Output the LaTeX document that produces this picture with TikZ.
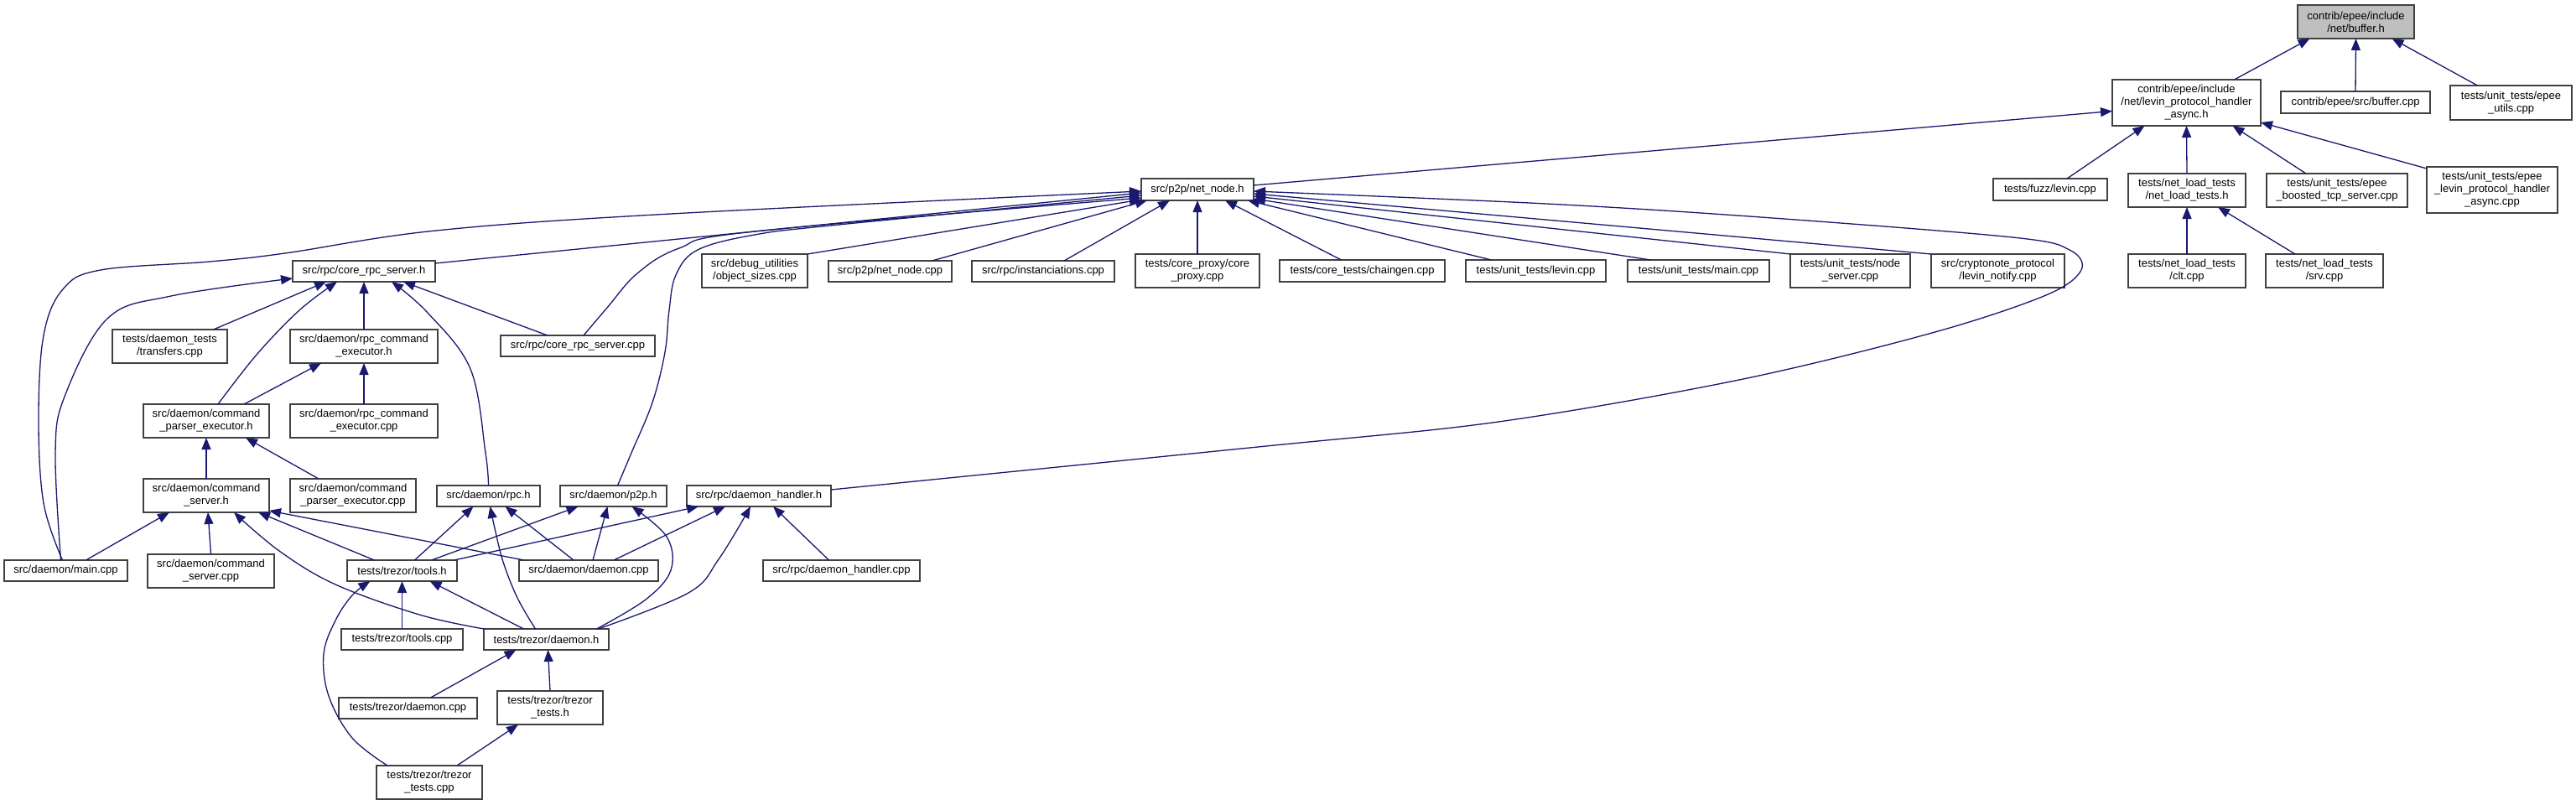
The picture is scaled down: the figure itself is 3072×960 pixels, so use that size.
\documentclass[tikz,border=0pt]{standalone}
\usepackage{fontspec}
\setmainfont{Liberation Sans}
\usetikzlibrary{arrows.meta}
\definecolor{edgecol}{HTML}{191970}
\definecolor{boxline}{HTML}{404040}
\definecolor{boxgray}{HTML}{BFBFBF}
\tikzset{
  box/.style={draw=boxline, line width=1.3pt, fill=white, inner sep=0pt, outer sep=0pt,
    align=center, font=\fontsize{13}{15}\selectfont},
  dep/.style={draw=edgecol, line width=1.3pt, -{Triangle[length=14pt,width=11pt]}},
}
\newcommand{\bx}[7][]{\node[box,#1, minimum width={(#4-#2)*1pt}, minimum height={(#5-#3)*1pt}] (#6) at ({(#2+#4)/2},{(#3+#5)/2}) {#7};}
\begin{document}
\begin{tikzpicture}[x=1pt,y=-1pt]
\fill[white] (0,0) rectangle (3072,960);
\useasboundingbox (0,0) rectangle (3072,960);
% row 0-1
\bx[fill=boxgray]{2740}{6}{2879}{46}{buf}{contrib/epee/include\\/net/buffer.h}
\bx{2519}{95}{2696}{150}{lph}{contrib/epee/include\\/net/levin\_protocol\_handler\\\_async.h}
\bx{2720}{109}{2898}{135}{bcpp}{contrib/epee/src/buffer.cpp}
\bx{2922}{102}{3067}{143}{eut}{tests/unit\_tests/epee\\\_utils.cpp}
% row 2
\bx{1361}{213}{1495}{239}{nn}{src/p2p/net\_node.h}
\bx{2377}{213}{2513}{239}{fuzz}{tests/fuzz/levin.cpp}
\bx{2538}{207}{2678}{247}{nlt}{tests/net\_load\_tests\\/net\_load\_tests.h}
\bx{2703}{207}{2871}{247}{ebt}{tests/unit\_tests/epee\\\_boosted\_tcp\_server.cpp}
\bx{2894}{199}{3050}{254}{ela}{tests/unit\_tests/epee\\\_levin\_protocol\_handler\\\_async.cpp}
% row 3
\bx{2538}{303}{2678}{343}{clt}{tests/net\_load\_tests\\/clt.cpp}
\bx{2702}{303}{2842}{343}{srv}{tests/net\_load\_tests\\/srv.cpp}
\bx{349}{311}{519}{336}{crs}{src/rpc/core\_rpc\_server.h}
\bx{837}{303}{963}{343}{obj}{src/debug\_utilities\\/object\_sizes.cpp}
\bx{988}{311}{1135}{336}{nncpp}{src/p2p/net\_node.cpp}
\bx{1159}{311}{1329}{336}{inst}{src/rpc/instanciations.cpp}
\bx{1354}{303}{1502}{343}{cproxy}{tests/core\_proxy/core\\\_proxy.cpp}
\bx{1526}{310}{1723}{336}{chain}{tests/core\_tests/chaingen.cpp}
\bx{1748}{310}{1915}{336}{ulevin}{tests/unit\_tests/levin.cpp}
\bx{1941}{310}{2110}{336}{umain}{tests/unit\_tests/main.cpp}
\bx{2135}{303}{2278}{343}{nserv}{tests/unit\_tests/node\\\_server.cpp}
\bx{2303}{303}{2462}{343}{lnot}{src/cryptonote\_protocol\\/levin\_notify.cpp}
% row 4
\bx{134}{393}{271}{433}{transf}{tests/daemon\_tests\\/transfers.cpp}
\bx{346}{393}{522}{433}{rceh}{src/daemon/rpc\_command\\\_executor.h}
\bx{597}{400}{781}{425}{crscpp}{src/rpc/core\_rpc\_server.cpp}
% row 5
\bx{171}{482}{321}{522}{cpeh}{src/daemon/command\\\_parser\_executor.h}
\bx{346}{482}{522}{522}{rcecpp}{src/daemon/rpc\_command\\\_executor.cpp}
% row 6
\bx{171}{571}{321}{611}{csh}{src/daemon/command\\\_server.h}
\bx{346}{571}{496}{611}{cpecpp}{src/daemon/command\\\_parser\_executor.cpp}
\bx{521}{579}{644}{604}{rpch}{src/daemon/rpc.h}
\bx{668}{579}{795}{604}{p2ph}{src/daemon/p2p.h}
\bx{819}{579}{991}{604}{dhh}{src/rpc/daemon\_handler.h}
% row 7
\bx{5}{668}{152}{693}{mcpp}{src/daemon/main.cpp}
\bx{176}{661}{327}{701}{cscpp}{src/daemon/command\\\_server.cpp}
\bx{414}{668}{545}{693}{toolsh}{tests/trezor/tools.h}
\bx{619}{668}{785}{693}{dcpp}{src/daemon/daemon.cpp}
\bx{910}{668}{1097}{693}{dhcpp}{src/rpc/daemon\_handler.cpp}
% row 8
\bx{407}{750}{552}{775}{toolscpp}{tests/trezor/tools.cpp}
\bx{577}{750}{726}{775}{tdh}{tests/trezor/daemon.h}
% row 9
\bx{404}{832}{569}{857}{tdcpp}{tests/trezor/daemon.cpp}
\bx{593}{824}{719}{864}{tth}{tests/trezor/trezor\\\_tests.h}
% row 10
\bx{449}{913}{575}{953}{ttcpp}{tests/trezor/trezor\\\_tests.cpp}

% ---------- edges ----------
\draw[dep] ([xshift=57pt]lph.north) -- ([xshift=-55pt]buf.south);
\draw[dep] (bcpp.north) -- (buf.south);
\draw[dep] ([xshift=-40pt]eut.north) -- ([xshift=43pt]buf.south);
\draw[dep] ([yshift=5pt]nn.east) -- ([yshift=-10pt]lph.west);
\draw[dep] ([xshift=20pt]fuzz.north) -- ([xshift=-50pt]lph.south);
\draw[dep] (nlt.north) -- (lph.south);
\draw[dep] ([xshift=-37pt]ebt.north) -- ([xshift=55pt]lph.south);
\draw[dep] ([yshift=-2pt]ela.north west) -- ([yshift=4pt]lph.south east);
\draw[dep] (clt.north) -- (nlt.south);
\draw[dep] ([xshift=-35pt]srv.north) -- ([xshift=37pt]nlt.south);
% into net_node.h
\draw[dep] plot[smooth,tension=0.6] coordinates {([xshift=-4pt]mcpp.north) (52,600) (46,500) (52,400) (75,345) (120,322) (250,312) (340,302) (520,275) (800,255) ([yshift=-2pt]nn.west)};
\draw[dep] ([yshift=-3pt]crs.north east) -- ([yshift=-4pt]nn.west);
\draw[dep] plot[smooth,tension=0.6] coordinates {([xshift=5pt]p2ph.north) (753,540) (778,480) (793,420) (798,370) (806,328) (832,298) (900,280) (1000,268) ([yshift=-7pt]nn.west)};
\draw[dep] plot[smooth,tension=0.6] coordinates {([xshift=7pt]crscpp.north) (724,367) (760,326) (810,296) (900,276) ([yshift=-10pt]nn.west)};
\draw[dep] (obj.north east) -- ([yshift=1pt]nn.south west);
\draw[dep] ([xshift=50pt]nncpp.north) -- ([xshift=-60pt]nn.south);
\draw[dep] ([xshift=25pt]inst.north) -- ([xshift=-33pt]nn.south);
\draw[dep] (cproxy.north) -- (nn.south);
\draw[dep] ([xshift=-25pt]chain.north) -- ([xshift=33pt]nn.south);
\draw[dep] ([xshift=-53pt]ulevin.north) -- ([xshift=60pt]nn.south);
\draw[dep] ([xshift=-57pt]umain.north) -- ([yshift=-11pt]nn.east);
\draw[dep] (nserv.north west) -- ([yshift=-8pt]nn.east);
\draw[dep] (lnot.north west) -- ([yshift=-5pt]nn.east);
\draw[dep] plot[smooth,tension=0.55] coordinates {([yshift=7.5pt]dhh.east) (1500,533) (1787,503) (2074,453) (2304,397) (2440,352) (2482,322) (2468,298) (2400,283) (2100,259) (1844,243) ([yshift=-2pt]nn.east)};
% into core_rpc_server.h
\draw[dep] plot[smooth,tension=0.6] coordinates {([xshift=-6pt]mcpp.north) (66,540) (77,473) (128,380) (204,353) ([yshift=4pt]crs.south west)};
\draw[dep] ([xshift=52pt]transf.north) -- ([xshift=-45pt]crs.south);
\draw[dep] plot[smooth,tension=0.6] coordinates {([xshift=14pt]cpeh.north) (306,423) (357,370) ([xshift=-32pt]crs.south)};
\draw[dep] (rceh.north) -- (crs.south);
\draw[dep] plot[smooth,tension=0.6] coordinates {(rpch.north) (579,540) (561,440) (510,373) ([xshift=33pt]crs.south)};
\draw[dep] ([xshift=-36pt]crscpp.north) -- ([xshift=47pt]crs.south);
% executor chain
\draw[dep] ([xshift=45pt]cpeh.north) -- ([xshift=-51pt]rceh.south);
\draw[dep] (rcecpp.north) -- (rceh.south);
\draw[dep] (csh.north) -- (cpeh.south);
\draw[dep] ([xshift=-41pt]cpecpp.north) -- ([xshift=47pt]cpeh.south);
% into command_server.h
\draw[dep] ([xshift=24pt]mcpp.north) -- ([xshift=-44pt]csh.south);
\draw[dep] (cscpp.north) -- ([xshift=2pt]csh.south);
\draw[dep] plot[smooth,tension=0.6] coordinates {(tdh.north west) (500,733) (400,697) (333,657) ([xshift=33pt]csh.south)};
\draw[dep] ([xshift=-33pt]toolsh.north) -- ([xshift=62pt]csh.south);
\draw[dep] ([xshift=-77pt]dcpp.north) -- ([yshift=2pt]csh.south east);
% into rpc.h
\draw[dep] ([xshift=15pt]toolsh.north) -- ([xshift=-18pt]rpch.south);
\draw[dep] plot[smooth,tension=0.6] coordinates {([xshift=-13pt]tdh.north) (617,713) (600,670) (590,630) ([xshift=2pt]rpch.south)};
\draw[dep] ([xshift=-18pt]dcpp.north) -- ([xshift=20pt]rpch.south);
% into p2p.h
\draw[dep] ([xshift=35pt]toolsh.north) -- ([xshift=-42pt]p2ph.south);
\draw[dep] ([xshift=5pt]dcpp.north) -- ([xshift=-7pt]p2ph.south);
\draw[dep] plot[smooth,tension=0.6] coordinates {([xshift=60pt]tdh.north) (770,715) (800,680) (795,640) ([xshift=22pt]p2ph.south)};
% into daemon_handler.h
\draw[dep] ([xshift=62pt]toolsh.north) -- ([xshift=-72pt]dhh.south);
\draw[dep] ([xshift=30pt]dcpp.north) -- ([xshift=-40pt]dhh.south);
\draw[dep] plot[smooth,tension=0.6] coordinates {([xshift=62pt]tdh.north) (821,707) (857,667) ([xshift=-10pt]dhh.south)};
\draw[dep] ([xshift=-15pt]dhcpp.north) -- ([xshift=17pt]dhh.south);
% into tools.h
\draw[dep] (toolscpp.north) -- (toolsh.south);
\draw[dep] ([xshift=-27pt]tdh.north) -- ([xshift=33pt]toolsh.south);
\draw[dep] plot[smooth,tension=0.6] coordinates {([xshift=-50pt]ttcpp.north) (420,880) (392,830) (386,780) (400,740) (420,710) ([xshift=-38pt]toolsh.south)};
% into trezor/daemon.h
\draw[dep] ([xshift=27pt]tdcpp.north) -- ([xshift=-36pt]tdh.south);
\draw[dep] (tth.north) -- ([xshift=2pt]tdh.south);
\draw[dep] ([xshift=33pt]ttcpp.north) -- ([xshift=-38pt]tth.south);
\end{tikzpicture}
\end{document}
